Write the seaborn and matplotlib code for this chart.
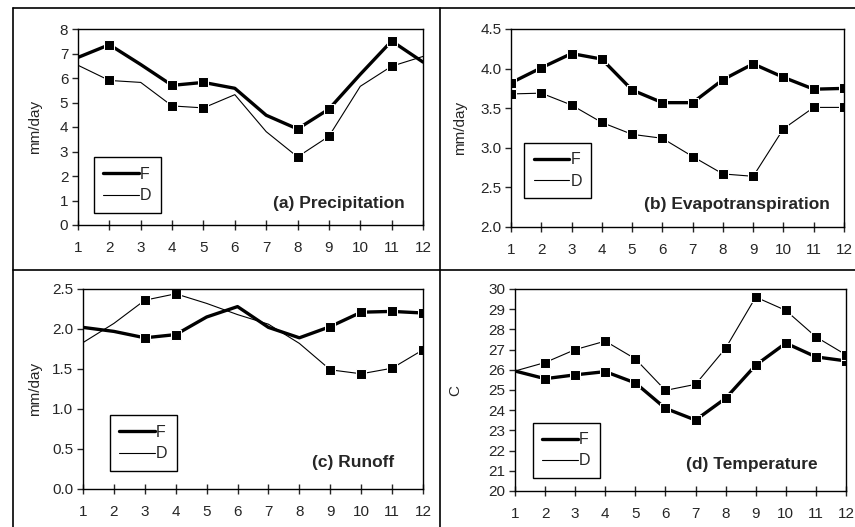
import seaborn as sns
import matplotlib.pyplot as plt
from matplotlib.lines import Line2D

months = list(range(1, 13))

# (a) precipitation, mm/day
prec_f = [6.84, 7.36, 6.55, 5.70, 5.82, 5.58, 4.48, 3.92, 4.73, 6.15, 7.51, 6.65]
prec_d = [6.52, 5.90, 5.82, 4.86, 4.78, 5.32, 3.81, 2.78, 3.62, 5.66, 6.48, 6.88]
prec_marks = [1, 3, 4, 7, 8, 10]

# (b) evapotranspiration, mm/day
evap_f = [3.82, 4.01, 4.19, 4.12, 3.73, 3.57, 3.57, 3.86, 4.06, 3.89, 3.74, 3.75]
evap_d = [3.68, 3.69, 3.54, 3.32, 3.17, 3.12, 2.89, 2.67, 2.64, 3.24, 3.51, 3.51]
evap_marks = list(range(12))

# (c) runoff, mm/day
run_f = [2.02, 1.97, 1.89, 1.93, 2.15, 2.28, 2.02, 1.89, 2.03, 2.21, 2.22, 2.20]
run_d = [1.83, 2.07, 2.36, 2.44, 2.32, 2.18, 2.06, 1.82, 1.49, 1.44, 1.51, 1.74]
run_marks = [2, 3, 8, 9, 10, 11]

# (d) temperature, C
temp_f = [25.94, 25.56, 25.75, 25.91, 25.35, 24.09, 23.51, 24.59, 26.23, 27.32, 26.64, 26.44]
temp_d = [25.94, 26.36, 27.00, 27.42, 26.54, 24.98, 25.28, 27.07, 29.60, 28.94, 27.63, 26.74]
temp_marks = list(range(1, 12))

sns.set_style('white')
plt.rcParams['font.family'] = ['Liberation Sans', 'DejaVu Sans']
plt.rcParams['font.size'] = 11

W, H = 855, 527
fig = plt.figure(figsize=(W / 100, H / 100), dpi=100)


def px_axes(x0, y0, x1, y1):
    return fig.add_axes([x0 / W, 1 - y1 / H, (x1 - x0) / W, (y1 - y0) / H])


panels = [
    dict(box=(78, 29, 423, 225), f=prec_f, d=prec_d, marks=prec_marks,
         ylim=(0, 8), yticks=list(range(0, 9)), fmt='{:.0f}', ylabel='mm/day',
         title='(a) Precipitation', tpos=(0.948, 0.112), leg=(0.046, 0.061), labx=-0.105),
    dict(box=(511, 29, 844, 227), f=evap_f, d=evap_d, marks=evap_marks,
         ylim=(2, 4.5), yticks=[2.0, 2.5, 3.0, 3.5, 4.0, 4.5], fmt='{:.1f}', ylabel='mm/day',
         title='(b) Evapotranspiration', tpos=(0.958, 0.116), leg=(0.039, 0.146), labx=-0.132),
    dict(box=(83, 289, 423, 489), f=run_f, d=run_d, marks=run_marks,
         ylim=(0, 2.5), yticks=[0.0, 0.5, 1.0, 1.5, 2.0, 2.5], fmt='{:.1f}', ylabel='mm/day',
         title='(c) Runoff', tpos=(0.915, 0.135), leg=(0.079, 0.09), labx=-0.12),
    dict(box=(515, 289, 846, 491), f=temp_f, d=temp_d, marks=temp_marks,
         ylim=(20, 30), yticks=list(range(20, 31)), fmt='{:.0f}', ylabel='C',
         title='(d) Temperature', tpos=(0.915, 0.129), leg=(0.054, 0.064), labx=-0.16),
]

for p in panels:
    ax = px_axes(*p['box'])
    sns.lineplot(x=months, y=p['f'], ax=ax, color='black', linewidth=2.4,
                 marker='s', markersize=6.5, markevery=p['marks'])
    sns.lineplot(x=months, y=p['d'], ax=ax, color='black', linewidth=0.8,
                 marker='s', markersize=6.5, markevery=p['marks'])
    ax.set_xlim(1, 12)
    ax.set_ylim(*p['ylim'])
    ax.set_xticks(months)
    ax.set_yticks(p['yticks'])
    ax.set_yticklabels([p['fmt'].format(v) for v in p['yticks']])
    ax.tick_params(axis='x', direction='inout', length=7, width=1, pad=8, labelsize=11)
    ax.tick_params(axis='y', direction='out', length=4, width=1, pad=3, labelsize=11)
    ax.tick_params(left=True, bottom=True)
    for s in ax.spines.values():
        s.set_visible(True)
        s.set_color('black')
        s.set_linewidth(1)
    ax.set_ylabel(p['ylabel'], fontsize=11)
    ax.yaxis.set_label_coords(p['labx'], 0.5)
    ax.set_xlabel('')
    ax.text(p['tpos'][0], p['tpos'][1], p['title'], transform=ax.transAxes,
            ha='right', va='center', fontsize=12.5, fontweight='bold')
    handles = [Line2D([], [], color='black', linewidth=2.4),
               Line2D([], [], color='black', linewidth=0.8)]
    leg = ax.legend(handles, ['F', 'D'], loc='lower left', bbox_to_anchor=p['leg'],
                    borderaxespad=0, fancybox=False, framealpha=1, edgecolor='black',
                    handlelength=2.2, handletextpad=0.1, labelspacing=0.4,
                    borderpad=0.6, fontsize=11.5)
    leg.get_frame().set_linewidth(1)

# outer frame lines
frame_lines = [((13, 8), (855, 8)), ((13, 8), (13, 527)),
               ((440, 8), (440, 527)), ((13, 270), (855, 270))]
for (x0, y0), (x1, y1) in frame_lines:
    fig.add_artist(Line2D([x0 / W, x1 / W], [1 - y0 / H, 1 - y1 / H],
                          transform=fig.transFigure, color='black', linewidth=1.2))

fig.savefig('out.png', dpi=100)
